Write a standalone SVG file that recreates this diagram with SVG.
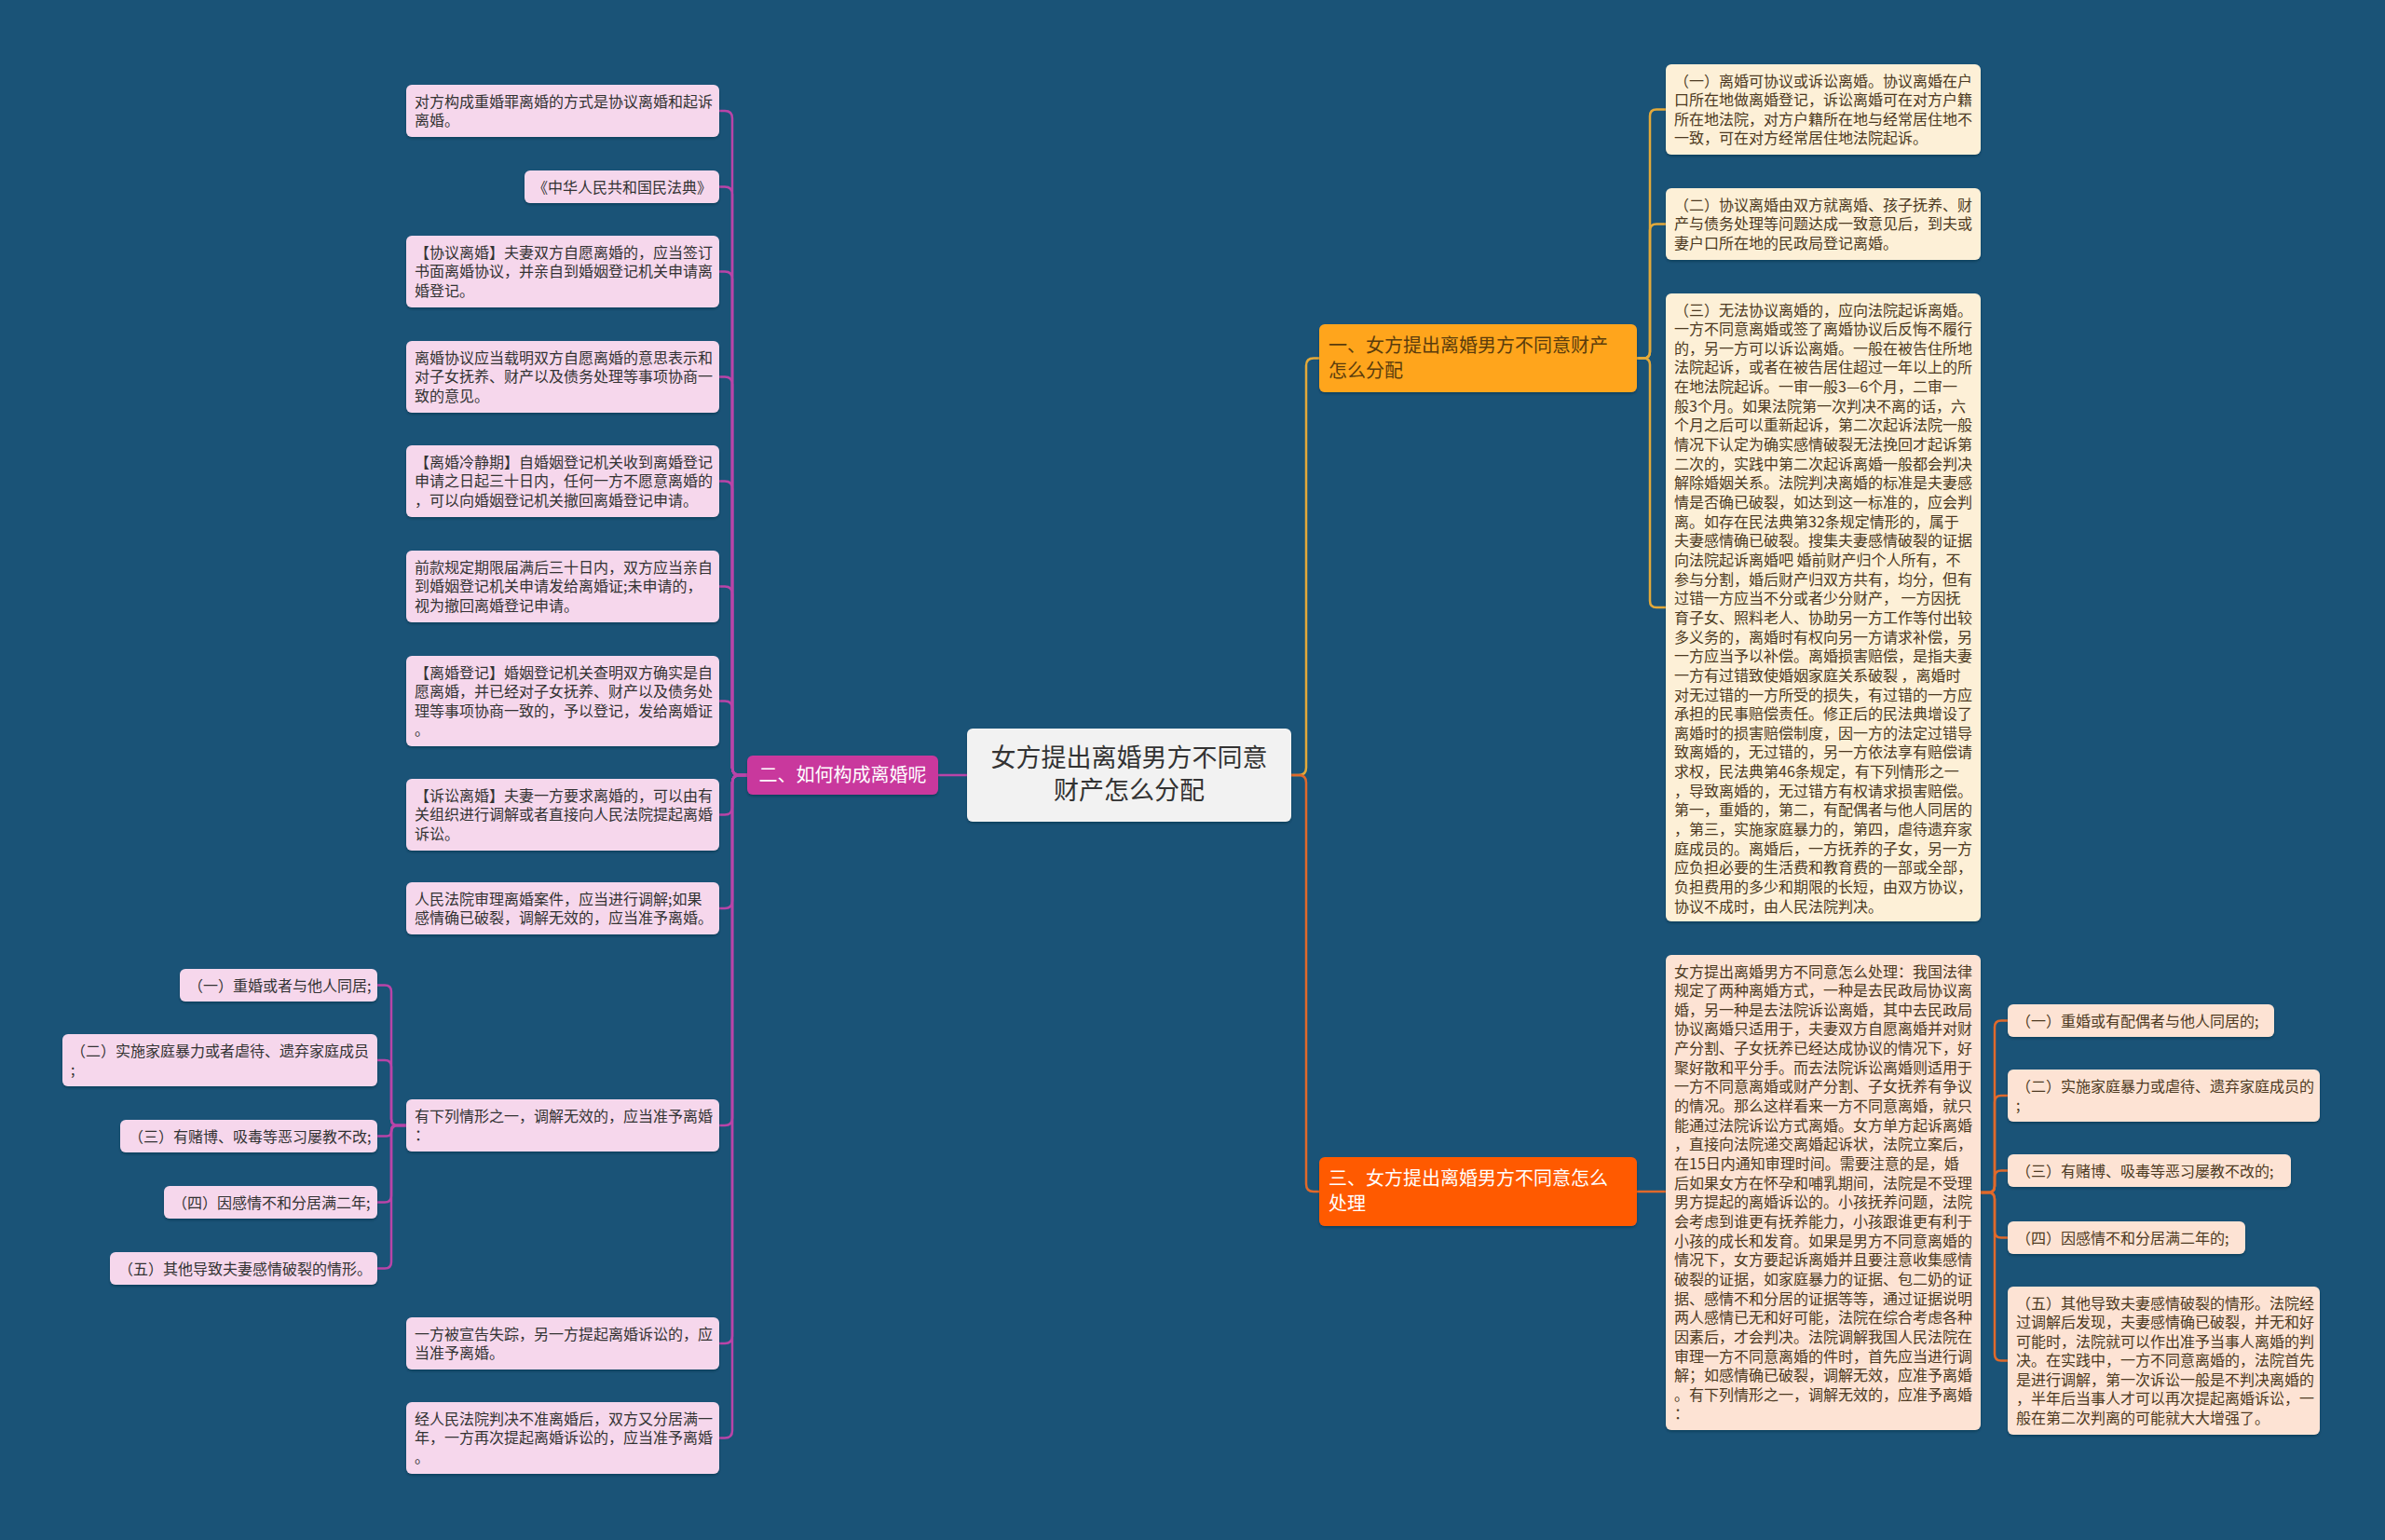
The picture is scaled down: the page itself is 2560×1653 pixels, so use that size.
<svg xmlns="http://www.w3.org/2000/svg" width="2560" height="1653" viewBox="0 0 2560 1653">
<defs>
<filter id="sh" x="-5%" y="-5%" width="110%" height="120%"><feDropShadow dx="0" dy="2" stdDeviation="1" flood-color="#0a2a40" flood-opacity="0.45"/></filter>
<style>
text{font-family:"Noto Sans CJK SC","Microsoft YaHei",sans-serif;font-size:16px;}
.lp{fill:#F6D7EC;filter:url(#sh);}
.lc{fill:#FDF0D7;filter:url(#sh);}
.lo{fill:#FDE3D4;filter:url(#sh);}
.tp{fill:#333333;}
.tc{fill:#4d3a22;}
.cm{fill:none;stroke:#B944A8;stroke-width:2.5;}
.cg{fill:none;stroke:#E3A93A;stroke-width:2.5;}
.co{fill:none;stroke:#E0692B;stroke-width:2.5;}
</style>
</defs>
<rect x="0" y="0" width="2560" height="1653" fill="#1A5377"/>

<g id="connectors">
<path class="cm" d="M1038,832H1007"/>
<path class="cm" d="M802,832H794Q786,832 786,824V127Q786,119 778,119H772"/>
<path class="cm" d="M802,832H794Q786,832 786,824V208.5Q786,200.5 778,200.5H772"/>
<path class="cm" d="M802,832H794Q786,832 786,824V299.5Q786,291.5 778,291.5H772"/>
<path class="cm" d="M802,832H794Q786,832 786,824V412.5Q786,404.5 778,404.5H772"/>
<path class="cm" d="M802,832H794Q786,832 786,824V524.5Q786,516.5 778,516.5H772"/>
<path class="cm" d="M802,832H794Q786,832 786,824V637.5Q786,629.5 778,629.5H772"/>
<path class="cm" d="M802,832H794Q786,832 786,824V760.5Q786,752.5 778,752.5H772"/>
<path class="cm" d="M802,832H794Q786,832 786,840V866.5Q786,874.5 778,874.5H772"/>
<path class="cm" d="M802,832H794Q786,832 786,840V967Q786,975 778,975H772"/>
<path class="cm" d="M802,832H794Q786,832 786,840V1200Q786,1208 778,1208H772"/>
<path class="cm" d="M802,832H794Q786,832 786,840V1434Q786,1442 778,1442H772"/>
<path class="cm" d="M802,832H794Q786,832 786,840V1535.5Q786,1543.5 778,1543.5H772"/>
<path class="cm" d="M436,1208H427Q420,1208 420,1201V1064.5Q420,1057.5 413,1057.5H405"/>
<path class="cm" d="M436,1208H427Q420,1208 420,1201V1145Q420,1138 413,1138H405"/>
<path class="cm" d="M436,1208H425Q420,1208 420,1213V1214.5Q420,1219.5 415,1219.5H405"/>
<path class="cm" d="M436,1208H427Q420,1208 420,1215V1283.5Q420,1290.5 413,1290.5H405"/>
<path class="cm" d="M436,1208H427Q420,1208 420,1215V1354.5Q420,1361.5 413,1361.5H405"/>
<path class="cg" d="M1386,832H1394Q1402,832 1402,824V392.5Q1402,384.5 1410,384.5H1416"/>
<path class="co" d="M1386,832H1394Q1402,832 1402,840V1271Q1402,1279 1410,1279H1416"/>
<path class="cg" d="M1757,384.5H1764Q1771,384.5 1771,377.5V124.5Q1771,117.5 1778,117.5H1788"/>
<path class="cg" d="M1757,384.5H1764Q1771,384.5 1771,377.5V247.5Q1771,240.5 1778,240.5H1788"/>
<path class="cg" d="M1757,384.5H1764Q1771,384.5 1771,391.5V645Q1771,652 1778,652H1788"/>
<path class="co" d="M1757,1279H1788"/>
<path class="co" d="M2126,1280H2134Q2141,1280 2141,1273V1102.5Q2141,1095.5 2148,1095.5H2155"/>
<path class="co" d="M2126,1280H2134Q2141,1280 2141,1273V1183Q2141,1176 2148,1176H2155"/>
<path class="co" d="M2126,1280H2134Q2141,1280 2141,1273V1263.5Q2141,1256.5 2148,1256.5H2155"/>
<path class="co" d="M2126,1280H2134Q2141,1280 2141,1287V1321.5Q2141,1328.5 2148,1328.5H2155"/>
<path class="co" d="M2126,1280H2134Q2141,1280 2141,1287V1453.5Q2141,1460.5 2148,1460.5H2155"/>
</g>

<g id="center">
<rect x="1038" y="782" width="348" height="100" rx="6" fill="#F2F2F2" filter="url(#sh)"/>
<text x="1212" style="font-size:27px" fill="#333" text-anchor="middle"><tspan x="1212" y="823">女方提出离婚男方不同意</tspan><tspan x="1212" y="858">财产怎么分配</tspan></text>
</g>

<g id="b2">
<rect x="802" y="811" width="205" height="42" rx="6" fill="#C9379D" filter="url(#sh)"/>
<text x="904.5" y="839" style="font-size:20px" fill="#ffffff" text-anchor="middle">二、如何构成离婚呢</text>
</g>

<g id="b1">
<rect x="1416" y="348" width="341" height="73" rx="6" fill="#FFA51E" filter="url(#sh)"/>
<text style="font-size:20px" fill="#5a3c0c"><tspan x="1426" y="378">一、女方提出离婚男方不同意财产</tspan><tspan x="1426" y="405">怎么分配</tspan></text>
</g>

<g id="b3">
<rect x="1416" y="1242" width="341" height="74" rx="6" fill="#FF5A05" filter="url(#sh)"/>
<text style="font-size:20px" fill="#ffffff"><tspan x="1426" y="1272">三、女方提出离婚男方不同意怎么</tspan><tspan x="1426" y="1299">处理</tspan></text>
</g>

<g id="l1"><rect class="lp" x="436" y="91" width="336" height="56" rx="6"/>
<text class="tp"><tspan x="445" y="114.5">对方构成重婚罪离婚的方式是协议离婚和起诉</tspan><tspan x="445" y="135">离婚。</tspan></text></g>
<g id="l2"><rect class="lp" x="563" y="183" width="209" height="35" rx="6"/>
<text class="tp"><tspan x="572" y="206.5">《中华人民共和国民法典》</tspan></text></g>
<g id="l3"><rect class="lp" x="436" y="253" width="336" height="77" rx="6"/>
<text class="tp"><tspan x="445" y="276.5">【协议离婚】夫妻双方自愿离婚的，应当签订</tspan><tspan x="445" y="297">书面离婚协议，并亲自到婚姻登记机关申请离</tspan><tspan x="445" y="317.5">婚登记。</tspan></text></g>
<g id="l4"><rect class="lp" x="436" y="366" width="336" height="77" rx="6"/>
<text class="tp"><tspan x="445" y="389.5">离婚协议应当载明双方自愿离婚的意思表示和</tspan><tspan x="445" y="410">对子女抚养、财产以及债务处理等事项协商一</tspan><tspan x="445" y="430.5">致的意见。</tspan></text></g>
<g id="l5"><rect class="lp" x="436" y="478" width="336" height="77" rx="6"/>
<text class="tp"><tspan x="445" y="501.5">【离婚冷静期】自婚姻登记机关收到离婚登记</tspan><tspan x="445" y="522">申请之日起三十日内，任何一方不愿意离婚的</tspan><tspan x="445" y="542.5">，可以向婚姻登记机关撤回离婚登记申请。</tspan></text></g>
<g id="l6"><rect class="lp" x="436" y="591" width="336" height="77" rx="6"/>
<text class="tp"><tspan x="445" y="614.5">前款规定期限届满后三十日内，双方应当亲自</tspan><tspan x="445" y="635">到婚姻登记机关申请发给离婚证;未申请的，</tspan><tspan x="445" y="655.5">视为撤回离婚登记申请。</tspan></text></g>
<g id="l7"><rect class="lp" x="436" y="704" width="336" height="97" rx="6"/>
<text class="tp"><tspan x="445" y="727.5">【离婚登记】婚姻登记机关查明双方确实是自</tspan><tspan x="445" y="748">愿离婚，并已经对子女抚养、财产以及债务处</tspan><tspan x="445" y="768.5">理等事项协商一致的，予以登记，发给离婚证</tspan><tspan x="445" y="789">。</tspan></text></g>
<g id="l8"><rect class="lp" x="436" y="836" width="336" height="77" rx="6"/>
<text class="tp"><tspan x="445" y="859.5">【诉讼离婚】夫妻一方要求离婚的，可以由有</tspan><tspan x="445" y="880">关组织进行调解或者直接向人民法院提起离婚</tspan><tspan x="445" y="900.5">诉讼。</tspan></text></g>
<g id="l9"><rect class="lp" x="436" y="947" width="336" height="56" rx="6"/>
<text class="tp"><tspan x="445" y="970.5">人民法院审理离婚案件，应当进行调解;如果</tspan><tspan x="445" y="991">感情确已破裂，调解无效的，应当准予离婚。</tspan></text></g>
<g id="l10"><rect class="lp" x="436" y="1180" width="336" height="56" rx="6"/>
<text class="tp"><tspan x="445" y="1203.5">有下列情形之一，调解无效的，应当准予离婚</tspan><tspan x="445" y="1224">：</tspan></text></g>
<g id="l11"><rect class="lp" x="436" y="1414" width="336" height="56" rx="6"/>
<text class="tp"><tspan x="445" y="1437.5">一方被宣告失踪，另一方提起离婚诉讼的，应</tspan><tspan x="445" y="1458">当准予离婚。</tspan></text></g>
<g id="l12"><rect class="lp" x="436" y="1505" width="336" height="77" rx="6"/>
<text class="tp"><tspan x="445" y="1528.5">经人民法院判决不准离婚后，双方又分居满一</tspan><tspan x="445" y="1549">年，一方再次提起离婚诉讼的，应当准予离婚</tspan><tspan x="445" y="1569.5">。</tspan></text></g>

<g id="s1"><rect class="lp" x="193" y="1040" width="212" height="35" rx="6"/>
<text class="tp"><tspan x="202" y="1063.5">（一）重婚或者与他人同居;</tspan></text></g>
<g id="s2"><rect class="lp" x="67" y="1110" width="338" height="56" rx="6"/>
<text class="tp"><tspan x="76" y="1133.5">（二）实施家庭暴力或者虐待、遗弃家庭成员</tspan><tspan x="76" y="1154">;</tspan></text></g>
<g id="s3"><rect class="lp" x="129" y="1202" width="276" height="35" rx="6"/>
<text class="tp"><tspan x="138" y="1225.5">（三）有赌博、吸毒等恶习屡教不改;</tspan></text></g>
<g id="s4"><rect class="lp" x="176" y="1273" width="229" height="35" rx="6"/>
<text class="tp"><tspan x="185" y="1296.5">（四）因感情不和分居满二年;</tspan></text></g>
<g id="s5"><rect class="lp" x="118" y="1344" width="287" height="35" rx="6"/>
<text class="tp"><tspan x="127" y="1367.5">（五）其他导致夫妻感情破裂的情形。</tspan></text></g>

<g id="r1"><rect class="lc" x="1788" y="69" width="338" height="97" rx="6"/>
<text class="tc"><tspan x="1797" y="92.5">（一）离婚可协议或诉讼离婚。协议离婚在户</tspan><tspan x="1797" y="113">口所在地做离婚登记，诉讼离婚可在对方户籍</tspan><tspan x="1797" y="133.5">所在地法院，对方户籍所在地与经常居住地不</tspan><tspan x="1797" y="154">一致，可在对方经常居住地法院起诉。</tspan></text></g>
<g id="r2"><rect class="lc" x="1788" y="202" width="338" height="77" rx="6"/>
<text class="tc"><tspan x="1797" y="225.5">（二）协议离婚由双方就离婚、孩子抚养、财</tspan><tspan x="1797" y="246">产与债务处理等问题达成一致意见后，到夫或</tspan><tspan x="1797" y="266.5">妻户口所在地的民政局登记离婚。</tspan></text></g>
<g id="r3"><rect class="lc" x="1788" y="315" width="338" height="674" rx="6"/>
<text class="tc">
<tspan x="1797" y="338.5">（三）无法协议离婚的，应向法院起诉离婚。</tspan>
<tspan x="1797" y="359.15">一方不同意离婚或签了离婚协议后反悔不履行</tspan>
<tspan x="1797" y="379.8">的，另一方可以诉讼离婚。一般在被告住所地</tspan>
<tspan x="1797" y="400.45">法院起诉，或者在被告居住超过一年以上的所</tspan>
<tspan x="1797" y="421.1">在地法院起诉。一审一般3—6个月，二审一</tspan>
<tspan x="1797" y="441.75">般3个月。如果法院第一次判决不离的话，六</tspan>
<tspan x="1797" y="462.4">个月之后可以重新起诉，第二次起诉法院一般</tspan>
<tspan x="1797" y="483.05">情况下认定为确实感情破裂无法挽回才起诉第</tspan>
<tspan x="1797" y="503.7">二次的，实践中第二次起诉离婚一般都会判决</tspan>
<tspan x="1797" y="524.35">解除婚姻关系。法院判决离婚的标准是夫妻感</tspan>
<tspan x="1797" y="545">情是否确已破裂，如达到这一标准的，应会判</tspan>
<tspan x="1797" y="565.65">离。如存在民法典第32条规定情形的，属于</tspan>
<tspan x="1797" y="586.3">夫妻感情确已破裂。搜集夫妻感情破裂的证据</tspan>
<tspan x="1797" y="606.95"> 向法院起诉离婚吧 婚前财产归个人所有，不</tspan>
<tspan x="1797" y="627.6">参与分割，婚后财产归双方共有，均分，但有</tspan>
<tspan x="1797" y="648.25">过错一方应当不分或者少分财产， 一方因抚</tspan>
<tspan x="1797" y="668.9">育子女、照料老人、协助另一方工作等付出较</tspan>
<tspan x="1797" y="689.55">多义务的，离婚时有权向另一方请求补偿，另</tspan>
<tspan x="1797" y="710.2">一方应当予以补偿。离婚损害赔偿，是指夫妻</tspan>
<tspan x="1797" y="730.85">一方有过错致使婚姻家庭关系破裂 ，离婚时</tspan>
<tspan x="1797" y="751.5">对无过错的一方所受的损失，有过错的一方应</tspan>
<tspan x="1797" y="772.15">承担的民事赔偿责任。修正后的民法典增设了</tspan>
<tspan x="1797" y="792.8">离婚时的损害赔偿制度，因一方的法定过错导</tspan>
<tspan x="1797" y="813.45">致离婚的，无过错的，另一方依法享有赔偿请</tspan>
<tspan x="1797" y="834.1">求权，民法典第46条规定，有下列情形之一</tspan>
<tspan x="1797" y="854.75">，导致离婚的，无过错方有权请求损害赔偿。</tspan>
<tspan x="1797" y="875.4">第一，重婚的，第二，有配偶者与他人同居的</tspan>
<tspan x="1797" y="896.05">，第三，实施家庭暴力的，第四，虐待遗弃家</tspan>
<tspan x="1797" y="916.7">庭成员的。离婚后，一方抚养的子女，另一方</tspan>
<tspan x="1797" y="937.35">应负担必要的生活费和教育费的一部或全部，</tspan>
<tspan x="1797" y="958">负担费用的多少和期限的长短，由双方协议，</tspan>
<tspan x="1797" y="978.65">协议不成时，由人民法院判决。</tspan>
</text></g>

<g id="r4"><rect class="lo" x="1788" y="1025" width="338" height="510" rx="6"/>
<text class="tc">
<tspan x="1797" y="1048.5">女方提出离婚男方不同意怎么处理：我国法律</tspan>
<tspan x="1797" y="1069.15">规定了两种离婚方式，一种是去民政局协议离</tspan>
<tspan x="1797" y="1089.8">婚，另一种是去法院诉讼离婚，其中去民政局</tspan>
<tspan x="1797" y="1110.45">协议离婚只适用于，夫妻双方自愿离婚并对财</tspan>
<tspan x="1797" y="1131.1">产分割、子女抚养已经达成协议的情况下，好</tspan>
<tspan x="1797" y="1151.75">聚好散和平分手。而去法院诉讼离婚则适用于</tspan>
<tspan x="1797" y="1172.4">一方不同意离婚或财产分割、子女抚养有争议</tspan>
<tspan x="1797" y="1193.05">的情况。那么这样看来一方不同意离婚，就只</tspan>
<tspan x="1797" y="1213.7">能通过法院诉讼方式离婚。女方单方起诉离婚</tspan>
<tspan x="1797" y="1234.35">，直接向法院递交离婚起诉状，法院立案后，</tspan>
<tspan x="1797" y="1255">在15日内通知审理时间。需要注意的是，婚</tspan>
<tspan x="1797" y="1275.65">后如果女方在怀孕和哺乳期间，法院是不受理</tspan>
<tspan x="1797" y="1296.3">男方提起的离婚诉讼的。小孩抚养问题，法院</tspan>
<tspan x="1797" y="1316.95">会考虑到谁更有抚养能力，小孩跟谁更有利于</tspan>
<tspan x="1797" y="1337.6">小孩的成长和发育。如果是男方不同意离婚的</tspan>
<tspan x="1797" y="1358.25">情况下，女方要起诉离婚并且要注意收集感情</tspan>
<tspan x="1797" y="1378.9">破裂的证据，如家庭暴力的证据、包二奶的证</tspan>
<tspan x="1797" y="1399.55">据、感情不和分居的证据等等，通过证据说明</tspan>
<tspan x="1797" y="1420.2">两人感情已无和好可能，法院在综合考虑各种</tspan>
<tspan x="1797" y="1440.85">因素后，才会判决。法院调解我国人民法院在</tspan>
<tspan x="1797" y="1461.5">审理一方不同意离婚的件时，首先应当进行调</tspan>
<tspan x="1797" y="1482.15">解；如感情确已破裂，调解无效，应准予离婚</tspan>
<tspan x="1797" y="1502.8">。有下列情形之一，调解无效的，应准予离婚</tspan>
<tspan x="1797" y="1523.45">：</tspan>
</text></g>

<g id="f1"><rect class="lo" x="2155" y="1078" width="286" height="35" rx="6"/>
<text class="tc"><tspan x="2164" y="1101.5">（一）重婚或有配偶者与他人同居的;</tspan></text></g>
<g id="f2"><rect class="lo" x="2155" y="1148" width="335" height="56" rx="6"/>
<text class="tc"><tspan x="2164" y="1171.5">（二）实施家庭暴力或虐待、遗弃家庭成员的</tspan><tspan x="2164" y="1192">;</tspan></text></g>
<g id="f3"><rect class="lo" x="2155" y="1239" width="304" height="35" rx="6"/>
<text class="tc"><tspan x="2164" y="1262.5">（三）有赌博、吸毒等恶习屡教不改的;</tspan></text></g>
<g id="f4"><rect class="lo" x="2155" y="1311" width="255" height="35" rx="6"/>
<text class="tc"><tspan x="2164" y="1334.5">（四）因感情不和分居满二年的;</tspan></text></g>
<g id="f5"><rect class="lo" x="2155" y="1381" width="335" height="159" rx="6"/>
<text class="tc"><tspan x="2164" y="1404.5">（五）其他导致夫妻感情破裂的情形。法院经</tspan><tspan x="2164" y="1425">过调解后发现，夫妻感情确已破裂，并无和好</tspan><tspan x="2164" y="1445.5">可能时，法院就可以作出准予当事人离婚的判</tspan><tspan x="2164" y="1466">决。在实践中，一方不同意离婚的，法院首先</tspan><tspan x="2164" y="1486.5">是进行调解，第一次诉讼一般是不判决离婚的</tspan><tspan x="2164" y="1507">，半年后当事人才可以再次提起离婚诉讼，一</tspan><tspan x="2164" y="1527.5">般在第二次判离的可能就大大增强了。</tspan></text></g>
</svg>
